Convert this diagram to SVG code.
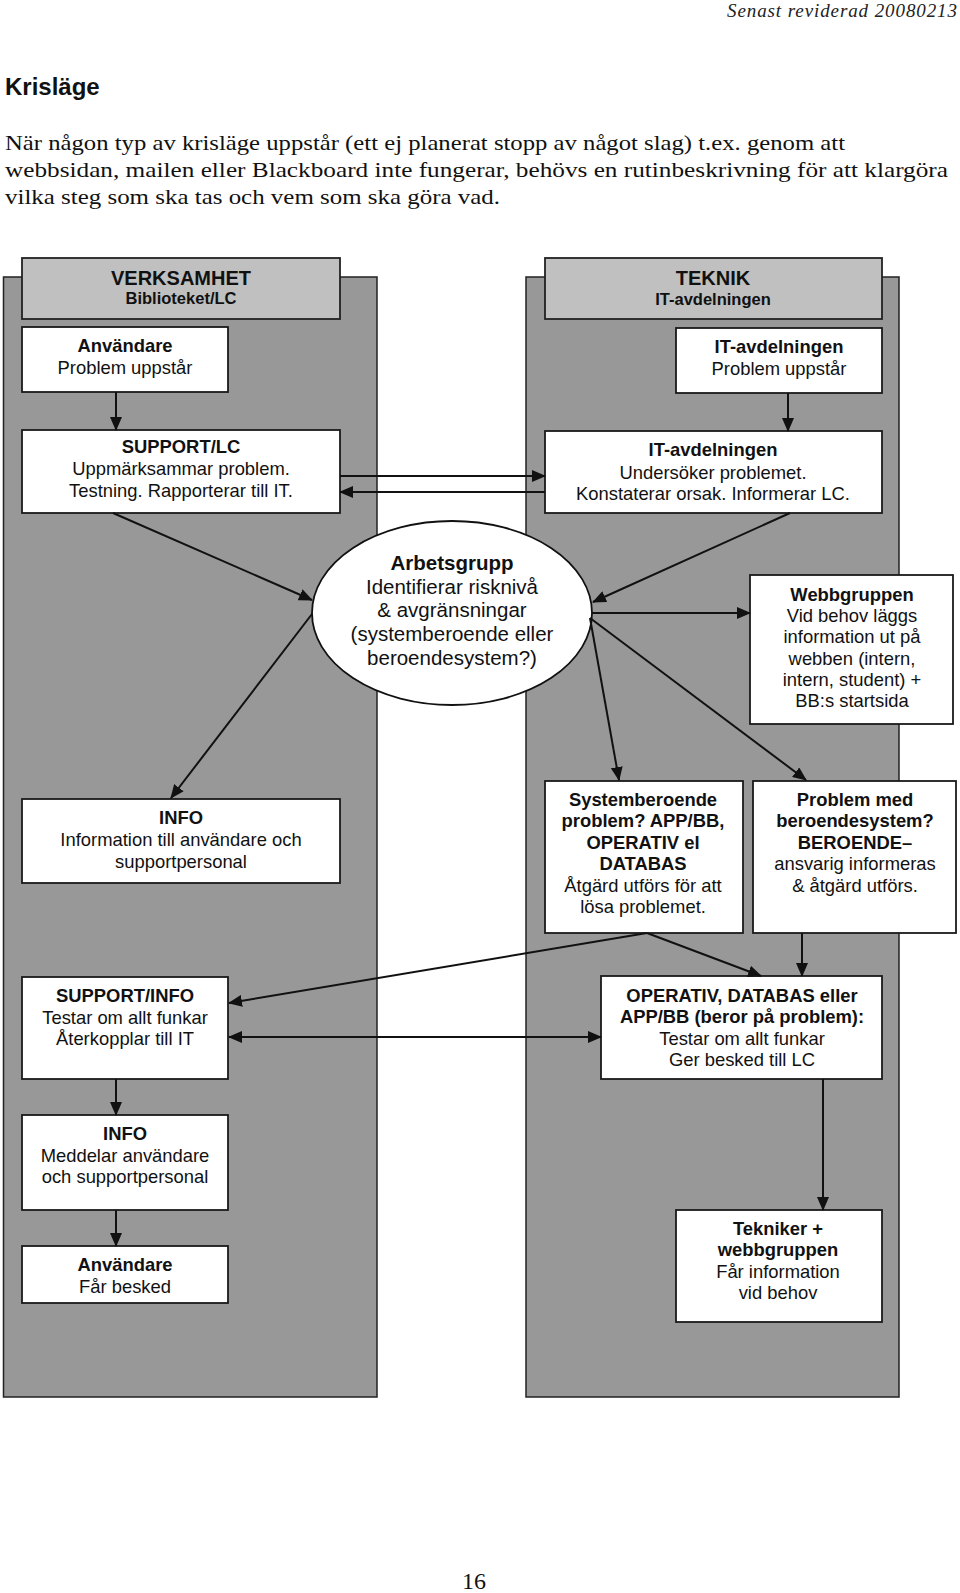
<svg xmlns="http://www.w3.org/2000/svg" width="960" height="1593" viewBox="0 0 960 1593">
<style>
.panel{fill:#989898;stroke:#222;stroke-width:1.5}
.hdr{fill:#c0c0c0;stroke:#222;stroke-width:1.8}
.box{fill:#fff;stroke:#1a1a1a;stroke-width:1.8}
.t{font-family:"Liberation Sans",Arial,sans-serif;font-size:18.4px;fill:#111;text-anchor:middle}
.b{font-weight:bold}
.h1{font-family:"Liberation Sans",Arial,sans-serif;font-size:20px;font-weight:bold;fill:#111;text-anchor:middle}
.h2{font-family:"Liberation Sans",Arial,sans-serif;font-size:16.5px;font-weight:bold;fill:#111;text-anchor:middle}
.e{font-size:20.5px}
.body{font-family:"Liberation Serif","Times New Roman",serif;font-size:22px;fill:#111}
.conn line{stroke:#111;stroke-width:2;fill:none}
</style>
<defs>
<marker id="ah" markerUnits="userSpaceOnUse" markerWidth="14" markerHeight="12" refX="13" refY="6" orient="auto">
<path d="M0,0 L14,6 L0,12 z" fill="#111"/>
</marker>
<marker id="as" markerUnits="userSpaceOnUse" markerWidth="14" markerHeight="12" refX="1" refY="6" orient="auto">
<path d="M14,0 L0,6 L14,12 z" fill="#111"/>
</marker>
</defs>
<rect width="960" height="1593" fill="#fff"/>

<text x="957" y="17" font-family="'Liberation Serif','Times New Roman',serif" font-style="italic" font-size="19" fill="#222" text-anchor="end" textLength="230">Senast reviderad 20080213</text>
<text x="5" y="95" font-family="'Liberation Sans',Arial,sans-serif" font-weight="bold" font-size="24" fill="#111">Krisläge</text>
<text class="body" x="5" y="150" textLength="840" lengthAdjust="spacingAndGlyphs">När någon typ av krisläge uppstår (ett ej planerat stopp av något slag) t.ex. genom att</text>
<text class="body" x="5" y="177" textLength="943" lengthAdjust="spacingAndGlyphs">webbsidan, mailen eller Blackboard inte fungerar, behövs en rutinbeskrivning för att klargöra</text>
<text class="body" x="5" y="204" textLength="495" lengthAdjust="spacingAndGlyphs">vilka steg som ska tas och vem som ska göra vad.</text>

<g id="panel-verksamhet"><rect class="panel" x="3.5" y="277" width="373.5" height="1120"/></g>
<g id="panel-teknik"><rect class="panel" x="526" y="277" width="373" height="1120"/></g>

<g id="hdr-verksamhet"><rect class="hdr" x="22" y="258" width="318" height="61"/>
<text class="h1" x="181" y="285">VERKSAMHET</text><text class="h2" x="181" y="304">Biblioteket/LC</text></g>
<g id="hdr-teknik"><rect class="hdr" x="545" y="258" width="337" height="61"/>
<text class="h1" x="713" y="285">TEKNIK</text><text class="h2" x="713" y="305">IT-avdelningen</text></g>

<g id="anvandare1"><rect class="box" x="22" y="327" width="206" height="65"/>
<text class="t b" x="125" y="352">Användare</text><text class="t" x="125" y="374">Problem uppstår</text></g>

<g id="it-problem"><rect class="box" x="676" y="328" width="206" height="65"/>
<text class="t b" x="779" y="353">IT-avdelningen</text><text class="t" x="779" y="375">Problem uppstår</text></g>

<g id="support-lc"><rect class="box" x="22" y="430" width="318" height="83"/>
<text class="t b" x="181" y="453">SUPPORT/LC</text><text class="t" x="181" y="475">Uppmärksammar problem.</text><text class="t" x="181" y="497">Testning. Rapporterar till IT.</text></g>

<g id="it-undersoker"><rect class="box" x="545" y="431" width="337" height="82"/>
<text class="t b" x="713" y="456">IT-avdelningen</text><text class="t" x="713" y="479">Undersöker problemet.</text><text class="t" x="713" y="500">Konstaterar orsak. Informerar LC.</text></g>

<g id="arbetsgrupp"><ellipse cx="452" cy="613" rx="140" ry="92" fill="#fff" stroke="#111" stroke-width="1.8"/>
<text class="t b e" x="452" y="570">Arbetsgrupp</text><text class="t e" x="452" y="594">Identifierar risknivå</text><text class="t e" x="452" y="617">&amp; avgränsningar</text><text class="t e" x="452" y="641">(systemberoende eller</text><text class="t e" x="452" y="665">beroendesystem?)</text></g>

<g id="webbgruppen"><rect class="box" x="750" y="575" width="203" height="149"/>
<text class="t b" x="852" y="601">Webbgruppen</text><text class="t" x="852" y="622">Vid behov läggs</text><text class="t" x="852" y="643">information ut på</text><text class="t" x="852" y="665">webben (intern,</text><text class="t" x="852" y="686">intern, student) +</text><text class="t" x="852" y="707">BB:s startsida</text></g>

<g id="info1"><rect class="box" x="22" y="799" width="318" height="84"/>
<text class="t b" x="181" y="824">INFO</text><text class="t" x="181" y="846">Information till användare och</text><text class="t" x="181" y="868">supportpersonal</text></g>

<g id="systemberoende"><rect class="box" x="545" y="781" width="198" height="152"/>
<text class="t b" x="643" y="806">Systemberoende</text><text class="t b" x="643" y="827">problem? APP/BB,</text><text class="t b" x="643" y="849">OPERATIV el</text><text class="t b" x="643" y="870">DATABAS</text><text class="t" x="643" y="892">Åtgärd utförs för att</text><text class="t" x="643" y="913">lösa problemet.</text></g>

<g id="beroendesystem"><rect class="box" x="753" y="781" width="203" height="152"/>
<text class="t b" x="855" y="806">Problem med</text><text class="t b" x="855" y="827">beroendesystem?</text><text class="t b" x="855" y="849">BEROENDE–</text><text class="t" x="855" y="870">ansvarig informeras</text><text class="t" x="855" y="892">&amp; åtgärd utförs.</text></g>

<g id="support-info"><rect class="box" x="22" y="977" width="206" height="102"/>
<text class="t b" x="125" y="1002">SUPPORT/INFO</text><text class="t" x="125" y="1024">Testar om allt funkar</text><text class="t" x="125" y="1045">Återkopplar till IT</text></g>

<g id="operativ"><rect class="box" x="601" y="976" width="281" height="103"/>
<text class="t b" x="742" y="1002">OPERATIV, DATABAS eller</text><text class="t b" x="742" y="1023">APP/BB (beror på problem):</text><text class="t" x="742" y="1045">Testar om allt funkar</text><text class="t" x="742" y="1066">Ger besked till LC</text></g>

<g id="info2"><rect class="box" x="22" y="1115" width="206" height="95"/>
<text class="t b" x="125" y="1140">INFO</text><text class="t" x="125" y="1162">Meddelar användare</text><text class="t" x="125" y="1183">och supportpersonal</text></g>

<g id="anvandare2"><rect class="box" x="22" y="1246" width="206" height="57"/>
<text class="t b" x="125" y="1271">Användare</text><text class="t" x="125" y="1293">Får besked</text></g>

<g id="tekniker"><rect class="box" x="676" y="1210" width="206" height="112"/>
<text class="t b" x="778" y="1235">Tekniker +</text><text class="t b" x="778" y="1256">webbgruppen</text><text class="t" x="778" y="1278">Får information</text><text class="t" x="778" y="1299">vid behov</text></g>

<g id="connectors" class="conn">
<line x1="116" y1="392" x2="116" y2="430" marker-end="url(#ah)"/>
<line x1="340" y1="476" x2="545" y2="476" marker-end="url(#ah)"/>
<line x1="545" y1="492" x2="340" y2="492" marker-end="url(#ah)"/>
<line x1="788" y1="393" x2="788" y2="431" marker-end="url(#ah)"/>
<line x1="113" y1="513" x2="312" y2="600" marker-end="url(#ah)"/>
<line x1="790" y1="513" x2="593" y2="602" marker-end="url(#ah)"/>
<line x1="592" y1="613" x2="750" y2="613" marker-end="url(#ah)"/>
<line x1="590" y1="618" x2="619" y2="780" marker-end="url(#ah)"/>
<line x1="590" y1="618" x2="806" y2="780" marker-end="url(#ah)"/>
<line x1="312" y1="614" x2="171" y2="798" marker-end="url(#ah)"/>
<line x1="647" y1="933" x2="229" y2="1003" marker-end="url(#ah)"/>
<line x1="647" y1="933" x2="761" y2="976" marker-end="url(#ah)"/>
<line x1="802" y1="933" x2="802" y2="976" marker-end="url(#ah)"/>
<line x1="229" y1="1037" x2="601" y2="1037" marker-start="url(#as)" marker-end="url(#ah)"/>
<line x1="823" y1="1079" x2="823" y2="1210" marker-end="url(#ah)"/>
<line x1="116" y1="1079" x2="116" y2="1115" marker-end="url(#ah)"/>
<line x1="116" y1="1210" x2="116" y2="1246" marker-end="url(#ah)"/>
</g>

<text x="474" y="1589" font-family="'Liberation Serif','Times New Roman',serif" font-size="24" fill="#111" text-anchor="middle">16</text>
</svg>
